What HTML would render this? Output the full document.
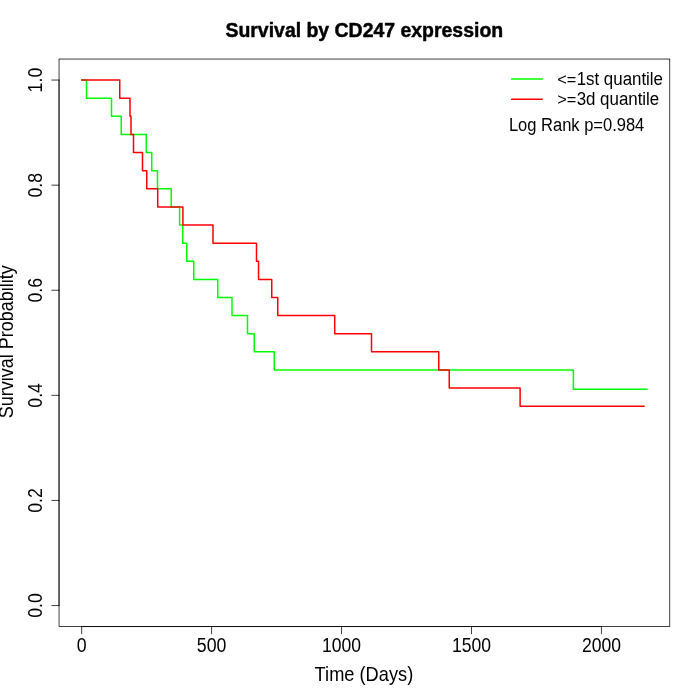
<!DOCTYPE html>
<html><head><meta charset="utf-8"><title>Survival by CD247 expression</title>
<style>
html,body{margin:0;padding:0;background:#fff;}
body{width:700px;height:700px;overflow:hidden;font-family:"Liberation Sans",sans-serif;}
svg{display:block;}
text{font-family:"Liberation Sans",sans-serif;fill:#000;}
svg{will-change:transform;}
</style></head><body>
<svg width="700" height="700" viewBox="0 0 700 700">
<rect width="700" height="700" fill="#fff"/>
<path d="M81.66,80.06H86.50V98.18H111.50V116.30H121.25V134.42H146.25V152.54H151.75V170.66H157.50V188.78H171.25V206.90H179.60V225.02H182.70V243.14H186.75V261.26H193.75V279.38H217.75V297.50H232.00V315.62H247.50V333.74H254.25V351.86H274.25V369.98H573.40V389.25H647.10" fill="none" stroke="#00ff00" stroke-width="1.5" stroke-linejoin="round" stroke-linecap="round"/>
<path d="M81.66,80.06H119.75V98.18H130.00V116.30H131.00V134.42H133.50V152.54H142.50V170.66H146.75V188.78H157.70V206.90H182.90V225.02H213.00V243.14H256.50V261.26H258.55V279.38H271.75V297.50H277.75V315.62H334.70V333.74H371.50V351.86H438.75V369.98H449.25V388.10H520.10V406.22H644.20" fill="none" stroke="#ff0000" stroke-width="1.5" stroke-linejoin="round" stroke-linecap="round"/>
<path d="M81.66,626.56H601.45M81.66,626.56v7.2M211.6,626.56v7.2M341.55,626.56v7.2M471.5,626.56v7.2M601.45,626.56v7.2M59.04,605.54V80.06M59.04,605.54h-7.2M59.04,500.44h-7.2M59.04,395.35h-7.2M59.04,290.25h-7.2M59.04,185.16h-7.2M59.04,80.06h-7.2" fill="none" stroke="#000" stroke-width="0.75" stroke-linecap="round"/>
<rect x="59.04" y="59.04" width="610.72" height="567.52" fill="none" stroke="#000" stroke-width="0.75"/>
<text transform="translate(81.66,651.90) scale(0.985,1.1)" font-size="18" text-anchor="middle">0</text>
<text transform="translate(211.60,651.90) scale(0.985,1.1)" font-size="18" text-anchor="middle">500</text>
<text transform="translate(341.55,651.90) scale(0.975,1.1)" font-size="18" text-anchor="middle">1000</text>
<text transform="translate(471.50,651.90) scale(0.975,1.1)" font-size="18" text-anchor="middle">1500</text>
<text transform="translate(601.45,651.90) scale(0.975,1.1)" font-size="18" text-anchor="middle">2000</text>
<text transform="translate(41.90,605.54) rotate(-90) scale(0.985,1.11)" font-size="18" text-anchor="middle">0.0</text>
<text transform="translate(41.90,500.44) rotate(-90) scale(0.985,1.11)" font-size="18" text-anchor="middle">0.2</text>
<text transform="translate(41.90,395.35) rotate(-90) scale(0.985,1.11)" font-size="18" text-anchor="middle">0.4</text>
<text transform="translate(41.90,290.25) rotate(-90) scale(0.985,1.11)" font-size="18" text-anchor="middle">0.6</text>
<text transform="translate(41.90,185.16) rotate(-90) scale(0.985,1.11)" font-size="18" text-anchor="middle">0.8</text>
<text transform="translate(41.90,80.06) rotate(-90) scale(0.985,1.11)" font-size="18" text-anchor="middle">1.0</text>
<text transform="translate(364.30,36.70) scale(1.0,1.03)" font-size="19.45" text-anchor="middle" font-weight="bold" stroke="#000" stroke-width="0.45" stroke-linejoin="round">Survival by CD247 expression</text>
<text transform="translate(363.90,680.60) scale(1.013,1.12)" font-size="18" text-anchor="middle">Time (Days)</text>
<text transform="translate(12.70,341.80) rotate(-90) scale(1.0,1.12)" font-size="18" text-anchor="middle">Survival Probability</text>
<path d="M511.7,79.1H542.3" stroke="#00ff00" stroke-width="1.5" stroke-linecap="round"/>
<path d="M511.7,99.26H542.3" stroke="#ff0000" stroke-width="1.5" stroke-linecap="round"/>
<text transform="translate(557.30,85.10) scale(0.97,0.93)" font-size="16.9" text-anchor="start">&lt;=</text>
<text transform="translate(576.64,84.60) scale(1.0,1.05)" font-size="16.9" text-anchor="start">1st quantile</text>
<text transform="translate(557.30,105.26) scale(0.97,0.93)" font-size="16.9" text-anchor="start">&gt;=</text>
<text transform="translate(576.64,104.76) scale(1.0,1.05)" font-size="16.9" text-anchor="start">3d quantile</text>
<text transform="translate(508.90,130.90) scale(0.978,1.05)" font-size="16.9" text-anchor="start">Log Rank p=0.984</text>
</svg></body></html>
